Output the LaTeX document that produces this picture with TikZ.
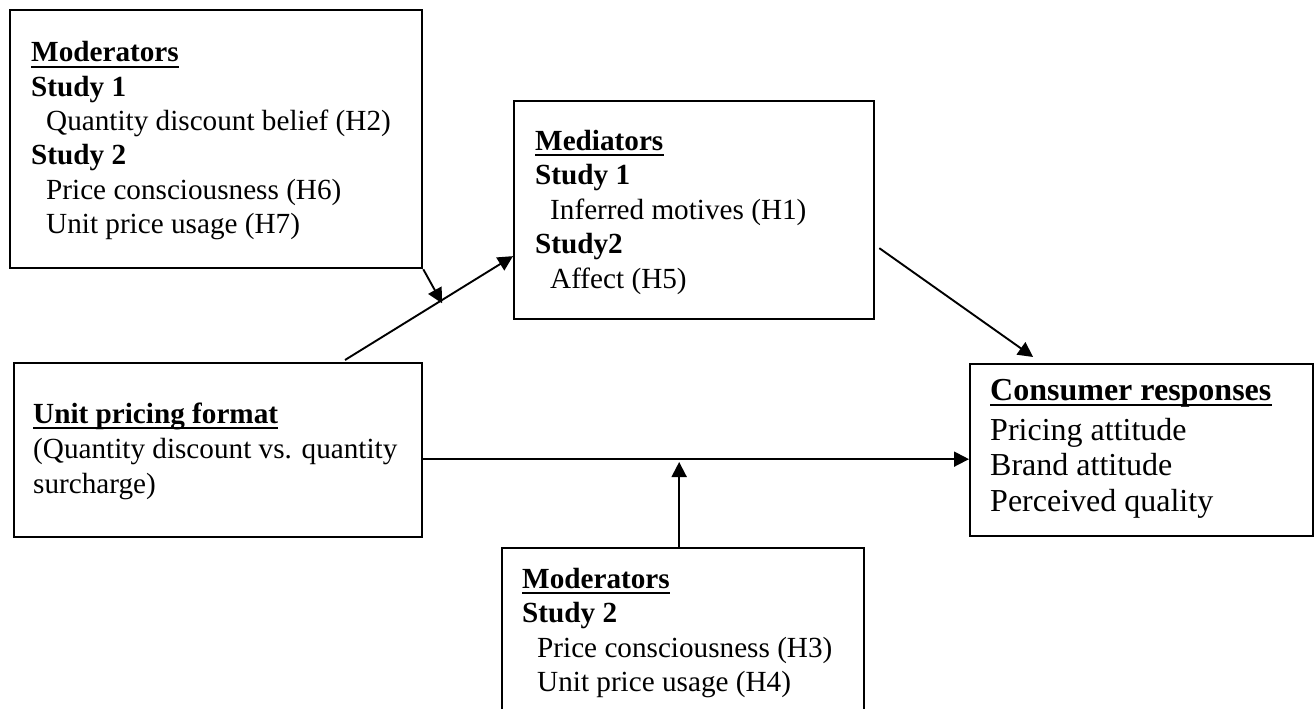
\documentclass[tikz,border=0pt]{standalone}
\usepackage{fontspec}
\setmainfont{Liberation Serif}
\usetikzlibrary{arrows.meta,calc}
\tikzset{
  box/.style={draw, line width=2.3pt, rectangle, anchor=north west, inner sep=0pt},
  ln/.style={anchor=base west, inner sep=0pt, font=\fontsize{29.2pt}{34pt}\selectfont},
  hd/.style={anchor=base west, inner sep=0pt, font=\fontsize{29.2pt}{34pt}\selectfont\bfseries},
  lnc/.style={anchor=base west, inner sep=0pt, font=\fontsize{32pt}{36pt}\selectfont},
  hdc/.style={anchor=base west, inner sep=0pt, font=\fontsize{32pt}{36pt}\selectfont\bfseries},
  arr/.style={line width=1.9pt, -{Triangle[length=15pt,width=15pt]}},
  ul/.style={line width=2.6pt}
}
\begin{document}
\begin{tikzpicture}[x=1pt,y=-1pt]
\useasboundingbox (0,0) rectangle (1315,709);
\clip (0,0) rectangle (1315,709);
% boxes
\node[box, minimum width=412pt, minimum height=258pt] (modA) at (9,9) {};
\node[box, minimum width=360pt, minimum height=218pt] (med) at (513,100) {};
\node[box, minimum width=408pt, minimum height=174pt] (unit) at (13,362) {};
\node[box, minimum width=343pt, minimum height=172pt] (cons) at (969,363) {};
\node[box, minimum width=362pt, minimum height=185pt] (modB) at (501,547) {};
% top-left moderators
\node[hd] (ma1) at (31,62) {Moderators};
\node[hd] (ma2) at (31,96.3) {Study 1};
\node[ln] (ma3) at (46,130.6) {Quantity discount belief (H2)};
\node[hd] (ma4) at (31,164.9) {Study 2};
\node[ln] (ma5) at (46,199.2) {Price consciousness (H6)};
\node[ln] (ma6) at (46,233.5) {Unit price usage (H7)};
% mediators
\node[hd] (md1) at (535,150) {Mediators};
\node[hd] (md2) at (535,184.5) {Study 1};
\node[ln] (md3) at (550,219) {Inferred motives (H1)};
\node[hd] (md4) at (535,253.5) {Study2};
\node[ln] (md5) at (550,288) {Affect (H5)};
% unit pricing format
\node[hd] (up1) at (33,423) {Unit pricing format};
\node[ln] (up2) at (33,458) {(Quantity discount vs. quantity};
\node[ln] (up3) at (33,493) {surcharge)};
% consumer responses
\node[hdc] (cr1) at (990,400) {Consumer responses};
\node[lnc] (cr2) at (990,440) {Pricing attitude};
\node[lnc] (cr3) at (990,475.5) {Brand attitude};
\node[lnc] (cr4) at (990,511) {Perceived quality};
% bottom moderators
\node[hd] (mb1) at (522,588) {Moderators};
\node[hd] (mb2) at (522,622.5) {Study 2};
\node[ln] (mb3) at (537,657) {Price consciousness (H3)};
\node[ln] (mb4) at (537,691) {Unit price usage (H4)};
% underlines
\foreach \n in {ma1,md1,up1,cr1,mb1}{
  \draw[ul] ([yshift=-5pt]\n.base west) -- ([yshift=-5pt]\n.base east);
}
% connectors
\coordinate (a1s) at ([xshift=332pt,yshift=2pt]unit.north west);
\coordinate (a1e) at ([yshift=-46pt]med.west);
\draw[arr] (a1s) -- (a1e);
\coordinate (a2e) at ($(a1s)!0.575!(a1e)+(0.5,3)$);
\draw[arr] (modA.south east) -- (a2e);
\draw[arr] ([shift={(4pt,-38pt)}]med.east) -- ([shift={(-108.5pt,6pt)}]cons.north);
\draw[arr] ([yshift=-9pt]unit.east) -- ([yshift=-9pt]cons.west);
\draw[arr] ([xshift=-4pt]modB.north) -- ++(0,-85);
\end{tikzpicture}
\end{document}
